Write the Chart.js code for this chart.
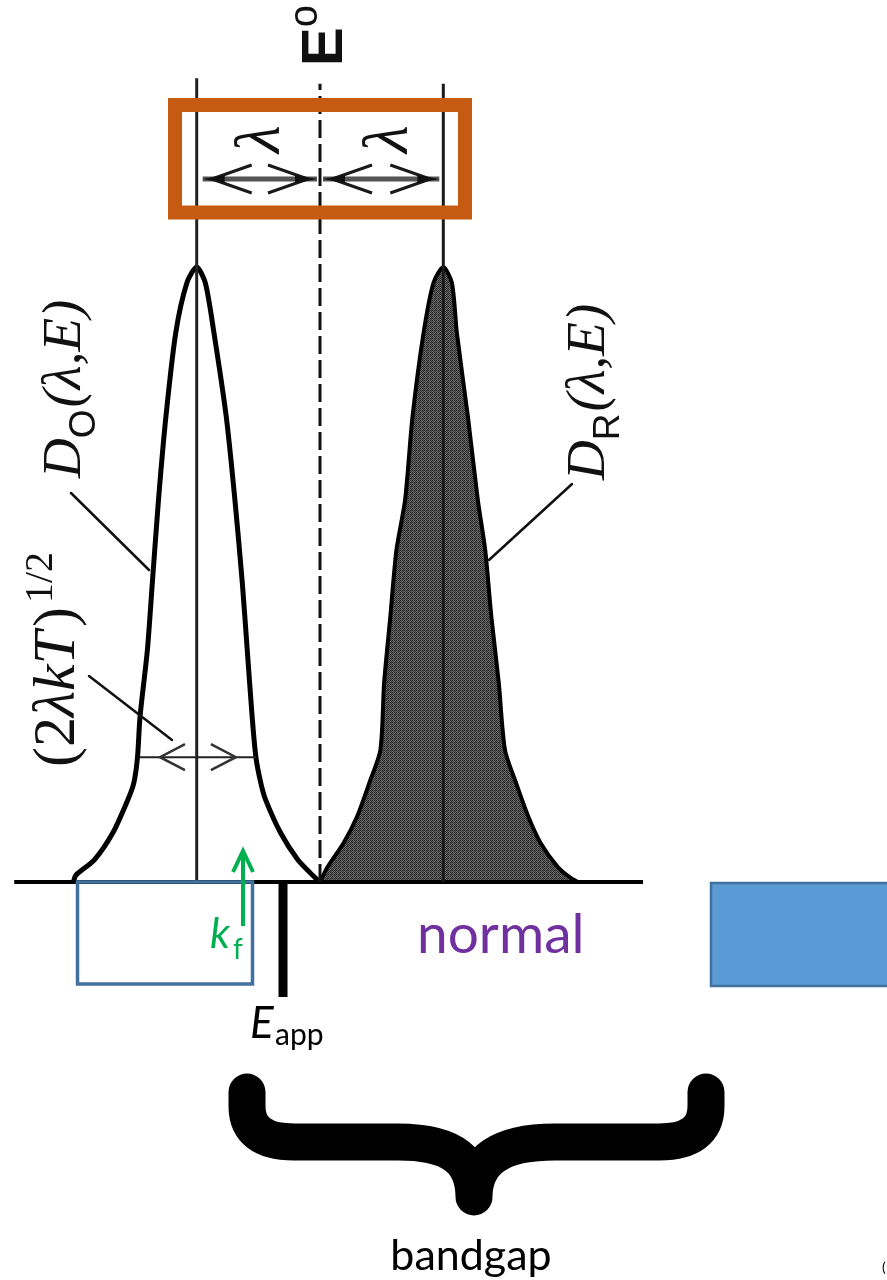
<!DOCTYPE html>
<html>
<head>
<meta charset="utf-8">
<script src="https://cdn.jsdelivr.net/npm/chart.js@4.4.1/dist/chart.umd.min.js"></script>
<style>
  html, body { margin: 0; padding: 0; background: #fff; }
  canvas { display: block; }
</style>
</head>
<body>
<canvas id="marcus" width="887" height="1280"></canvas>
<script>
// energy axis in units of lambda, measured from E0; densities scaled to peak = 1
var oxEnergy = [-2.00, -1.98, -1.83, -1.68, -1.56, -1.51, -1.48, -1.46, -1.40, -1.36, -1.31, -1.25, -1.17, -1.08, -1.00,
                -0.93, -0.86, -0.76, -0.69, -0.63, -0.59, -0.55, -0.52, -0.48, -0.44, -0.32, -0.18, -0.06, 0.00];
var oxDensity = [0.000, 0.011, 0.036, 0.080, 0.133, 0.161, 0.203, 0.268, 0.377, 0.486, 0.621, 0.756, 0.893, 0.974, 1.000,
                 0.974, 0.893, 0.756, 0.621, 0.486, 0.377, 0.268, 0.203, 0.161, 0.133, 0.080, 0.036, 0.011, 0.000];

var redEnergy = [0.00, 0.06, 0.19, 0.30, 0.40, 0.49, 0.52, 0.57, 0.62, 0.69, 0.75, 0.84, 0.92, 1.00,
                 1.07, 1.11, 1.20, 1.28, 1.34, 1.39, 1.45, 1.50, 1.59, 1.69, 1.79, 1.93, 2.03, 2.09];
var redDensity = [0.000, 0.024, 0.063, 0.106, 0.161, 0.215, 0.324, 0.431, 0.540, 0.621, 0.756, 0.893, 0.974, 1.000,
                  0.974, 0.893, 0.756, 0.621, 0.540, 0.431, 0.324, 0.215, 0.161, 0.106, 0.063, 0.024, 0.007, 0.000];

var peakEnergy = [-1, 1];        // centres of D_O and D_R
var peakLineTop = [1.307, 1.298];
var formalEnergy = 0;            // E0
var formalLineTop = 1.298;
var appliedEnergy = -0.30;       // E_app
var appliedDepth = -0.187;
var axisEnergy = [-2.48, 2.62];
var lambdaArrowAt = 1.143;
var widthArrowEnergy = [-1.46, -0.52];
var widthArrowAt = 0.203;

function points(xs, ys) {
  return xs.map(function (x, i) { return { x: x, y: ys[i] }; });
}

function shadePattern() {
  var c = document.createElement('canvas');
  c.width = 4; c.height = 4;
  var g = c.getContext('2d');
  var v = [30, 120, 30, 100, 100, 45, 130, 45, 30, 110, 30, 80, 120, 45, 100, 55];
  for (var i = 0; i < 16; i++) {
    g.fillStyle = 'rgb(' + v[i] + ',' + v[i] + ',' + v[i] + ')';
    g.fillRect(i % 4, Math.floor(i / 4), 1, 1);
  }
  return g.createPattern(c, 'repeat');
}

// text running bottom-to-top; parts = [text, font, baseline shift]
function upText(ctx, x, y, parts, color) {
  ctx.save();
  ctx.translate(x, y);
  ctx.rotate(-Math.PI / 2);
  ctx.fillStyle = color || '#111';
  ctx.textBaseline = 'alphabetic';
  var pos = 0;
  parts.forEach(function (p) {
    ctx.font = p[1];
    ctx.fillText(p[0], pos, p[2] || 0);
    pos += ctx.measureText(p[0]).width + (p[3] || 0);
  });
  ctx.restore();
}

function line(ctx, x1, y1, x2, y2, w, color) {
  ctx.beginPath();
  ctx.moveTo(x1, y1);
  ctx.lineTo(x2, y2);
  ctx.lineWidth = w;
  ctx.strokeStyle = color;
  ctx.stroke();
}

// horizontal double arrow with open chevron heads
function doubleArrow(ctx, x1, x2, y, o) {
  ctx.save();
  ctx.lineCap = 'butt';
  line(ctx, x1, y, x2, y, o.shaft, o.shaftColor);
  [[x1, 1], [x2, -1]].forEach(function (e) {
    var vx = e[0] + e[1] * o.inset;
    ctx.beginPath();
    ctx.moveTo(vx + e[1] * o.arm, y - o.half);
    ctx.lineTo(vx, y);
    ctx.lineTo(vx + e[1] * o.arm, y + o.half);
    ctx.lineWidth = o.head;
    ctx.strokeStyle = o.headColor;
    ctx.stroke();
    if (o.tip) {
      ctx.beginPath();
      ctx.moveTo(e[0], y);
      ctx.lineTo(e[0] + e[1] * o.tip, y - 4);
      ctx.lineTo(e[0] + e[1] * o.tip, y + 4);
      ctx.closePath();
      ctx.fillStyle = '#111';
      ctx.fill();
    }
  });
  ctx.restore();
}

function brace(ctx) {
  ctx.save();
  ctx.strokeStyle = '#000';
  ctx.lineWidth = 37;
  ctx.lineCap = 'round';
  ctx.lineJoin = 'round';
  ctx.beginPath();
  ctx.moveTo(247, 1092);
  ctx.lineTo(247, 1106);
  ctx.quadraticCurveTo(247, 1142, 294, 1142);
  ctx.lineTo(398, 1142);
  ctx.bezierCurveTo(452, 1142, 474, 1160, 474, 1197);
  ctx.moveTo(706, 1092);
  ctx.lineTo(706, 1106);
  ctx.quadraticCurveTo(706, 1142, 659, 1142);
  ctx.lineTo(555, 1142);
  ctx.bezierCurveTo(500, 1142, 474, 1160, 474, 1197);
  ctx.stroke();
  ctx.restore();
}

var annotations = {
  id: 'annotations',
  afterDatasetsDraw: function (chart) {
    var ctx = chart.ctx;
    var sx = chart.scales.x, sy = chart.scales.y;
    var px = function (v) { return sx.getPixelForValue(v); };
    var py = function (v) { return sy.getPixelForValue(v); };

    // lambda spacing arrows and their box
    var ya = py(lambdaArrowAt);
    var lam = { shaft: 5, shaftColor: '#555', head: 3, headColor: '#1a1a1a', inset: 9, arm: 40, half: 14, tip: 22 };
    doubleArrow(ctx, px(peakEnergy[0]) + 6, px(formalEnergy) - 3, ya, lam);
    doubleArrow(ctx, px(formalEnergy) + 3, px(peakEnergy[1]) - 4, ya, lam);
    upText(ctx, 279, 153, [['λ', 'italic 64px "Liberation Serif"']]);
    upText(ctx, 407, 153, [['λ', 'italic 64px "Liberation Serif"']]);
    ctx.save();
    ctx.strokeStyle = '#C55A11';
    ctx.lineWidth = 14;
    ctx.strokeRect(175, 105, 290, 107.5);
    ctx.restore();

    // E0 label
    upText(ctx, 342, 66, [['E', 'bold 58px "Liberation Sans"', 0], ['o', '40px "Liberation Sans"', -25]]);

    // width of D_O
    doubleArrow(ctx, px(widthArrowEnergy[0]), px(widthArrowEnergy[1]), py(widthArrowAt),
      { shaft: 2, shaftColor: '#222', head: 2.5, headColor: '#333', inset: 20, arm: 25, half: 13 });

    // curve labels and leaders
    ctx.save();
    ctx.lineCap = 'round';
    line(ctx, 71, 493, 149, 570, 2.5, '#111');
    line(ctx, 572, 484, 489, 560, 2.5, '#111');
    line(ctx, 89, 676, 172, 740, 2.5, '#111');
    ctx.restore();
    upText(ctx, 80, 478, [
      ['D', 'italic 55px "Liberation Serif"', 0],
      ['O', '37px "Liberation Sans"', 15, 2],
      ['(λ,E)', 'italic 55px "Liberation Serif"', 0]
    ]);
    upText(ctx, 604, 480, [
      ['D', 'italic 55px "Liberation Serif"', 0],
      ['R', '37px "Liberation Sans"', 15, 2],
      ['(λ,E)', 'italic 55px "Liberation Serif"', 0]
    ]);
    upText(ctx, 74, 767, [
      ['(2', '60px "Liberation Serif"', 0],
      ['λkT', 'italic 60px "Liberation Serif"', 0, 4],
      [')', '60px "Liberation Serif"', 0, 4],
      ['1/2', '40px "Liberation Serif"', -22]
    ]);

    // rate box below the axis
    ctx.save();
    ctx.strokeStyle = '#41719C';
    ctx.lineWidth = 3.5;
    ctx.strokeRect(77.5, 882, 175, 102);
    ctx.fillStyle = '#5B9BD5';
    ctx.fillRect(711, 883, 190, 103);
    ctx.lineWidth = 2.5;
    ctx.strokeRect(711, 883, 190, 103);

    // k_f arrow
    ctx.strokeStyle = '#00B050';
    ctx.lineWidth = 4;
    ctx.lineCap = 'butt';
    line(ctx, 243, 926, 243, 852, 4, '#00B050');
    ctx.beginPath();
    ctx.moveTo(233, 872);
    ctx.lineTo(243, 851);
    ctx.lineTo(253, 872);
    ctx.stroke();
    ctx.fillStyle = '#00B050';
    ctx.font = 'italic 42px Lato';
    ctx.fillText('k', 210, 948);
    ctx.font = '28px Lato';
    ctx.fillText('f', 233, 959);

    ctx.fillStyle = '#7030A0';
    ctx.font = '55px Lato';
    ctx.fillText('normal', 417, 953);

    ctx.fillStyle = '#000';
    ctx.font = 'italic 44px Lato';
    ctx.fillText('E', 250, 1038);
    ctx.font = '30px Lato';
    ctx.fillText('app', 275, 1045);

    ctx.font = '43px Lato';
    ctx.textAlign = 'center';
    ctx.fillText('bandgap', 471, 1270);
    ctx.textAlign = 'left';
    ctx.font = '14px Lato';
    ctx.fillText('(', 882, 1272);
    ctx.restore();

    brace(ctx);
  }
};

var chart = new Chart(document.getElementById('marcus'), {
  type: 'scatter',
  data: {
    datasets: [
      {
        label: 'centres',
        data: [{ x: peakEnergy[0], y: 0 }, { x: peakEnergy[0], y: peakLineTop[0] }],
        showLine: true, borderColor: '#222', borderWidth: 3, pointRadius: 0, order: 0
      },
      {
        label: 'centre R',
        data: [{ x: peakEnergy[1], y: 0 }, { x: peakEnergy[1], y: peakLineTop[1] }],
        showLine: true, borderColor: '#1a1a1a', borderWidth: 3, pointRadius: 0, order: 0
      },
      {
        label: 'E0',
        data: [{ x: formalEnergy, y: 0 }, { x: formalEnergy, y: formalLineTop }],
        showLine: true, borderColor: '#111', borderWidth: 3, borderDash: [18, 6], pointRadius: 0, order: 0
      },
      {
        label: 'axis',
        data: [{ x: axisEnergy[0], y: 0 }, { x: axisEnergy[1], y: 0 }],
        showLine: true, borderColor: '#000', borderWidth: 4, pointRadius: 0, order: 0
      },
      {
        label: 'E_app',
        data: [{ x: appliedEnergy, y: 0 }, { x: appliedEnergy, y: appliedDepth }],
        showLine: true, borderColor: '#000', borderWidth: 9, borderCapStyle: 'butt', pointRadius: 0, order: 0
      },
      {
        label: 'D_O',
        data: points(oxEnergy, oxDensity),
        showLine: true, borderColor: '#000', borderWidth: 5, tension: 0.25, pointRadius: 0, fill: false, order: 1
      },
      {
        label: 'D_R',
        data: points(redEnergy, redDensity),
        showLine: true, borderColor: '#000', borderWidth: 4, tension: 0.25, pointRadius: 0,
        fill: 'origin', backgroundColor: shadePattern(), order: 2
      }
    ]
  },
  options: {
    responsive: false,
    animation: false,
    events: [],
    layout: { padding: 0 },
    plugins: { legend: { display: false }, tooltip: { enabled: false } },
    scales: {
      x: { type: 'linear', min: -2.5953, max: 4.5985, display: false },
      y: { type: 'linear', min: -0.6472, max: 1.4341, display: false }
    }
  },
  plugins: [annotations]
});
</script>
</body>
</html>
